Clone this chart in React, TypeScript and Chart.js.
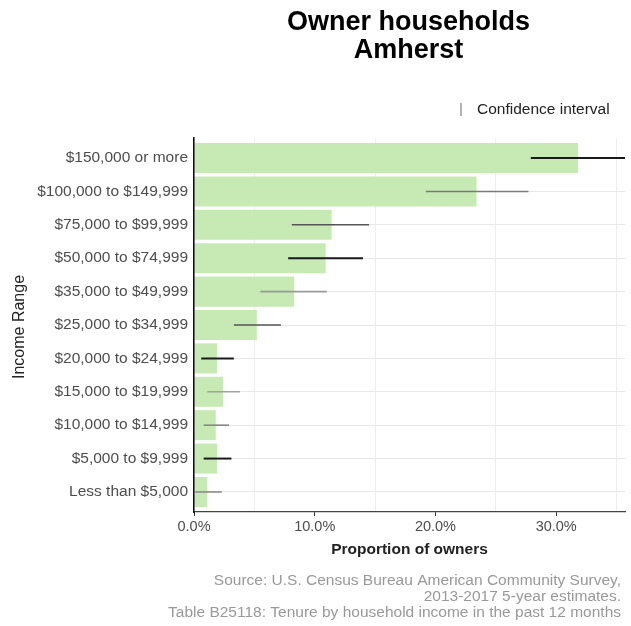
import React, { useEffect, useRef } from "react";
import { Chart, registerables } from "chart.js";

Chart.register(...registerables);

const categories = [
  "$150,000 or more",
  "$100,000 to $149,999",
  "$75,000 to $99,999",
  "$50,000 to $74,999",
  "$35,000 to $49,999",
  "$25,000 to $34,999",
  "$20,000 to $24,999",
  "$15,000 to $19,999",
  "$10,000 to $14,999",
  "$5,000 to $9,999",
  "Less than $5,000",
];
const share = [31.8, 23.4, 11.4, 10.9, 8.3, 5.2, 1.9, 2.4, 1.8, 1.9, 1.1];
const ciLower = [27.9, 19.2, 8.1, 7.8, 5.5, 3.3, 0.6, 1.1, 0.8, 0.8, 0.1];
const ciUpper = [35.7, 27.7, 14.5, 14.0, 11.0, 7.2, 3.3, 3.8, 2.9, 3.1, 2.3];
const xTickValues = [0, 5, 10, 15, 20, 25, 30, 35];

const titleLines = ["Owner households", "Amherst"];
const xTitle = "Proportion of owners";
const yTitle = "Income Range";
const legendLabel = "Confidence interval";
const captionLines = [
  "Source: U.S. Census Bureau American Community Survey,",
  "2013-2017 5-year estimates.",
  "Table B25118: Tenure by household income in the past 12 months",
];

const ciColors = ["#1a1a1a", "#7a7a7a", "#555555", "#1a1a1a", "#999999", "#555555", "#1a1a1a", "#a0a0a0", "#888888", "#1a1a1a", "#8a8a8a"];
const FONT = "'Liberation Sans', Arial, Helvetica, sans-serif";

const decorPlugin = {
  id: "decor",
  afterDatasetsDraw(chart: any) {
    const { ctx, chartArea, scales } = chart;
    const xs = scales.x;
    const ys = scales.y;
    ctx.save();
    ctx.beginPath();
    ctx.rect(chartArea.left, chartArea.top, chartArea.right - chartArea.left, chartArea.bottom - chartArea.top);
    ctx.clip();
    for (let i = 0; i < categories.length; i++) {
      const y = ys.getPixelForValue(i);
      const x1 = xs.getPixelForValue(ciLower[i]);
      const x2 = xs.getPixelForValue(ciUpper[i]);
      ctx.strokeStyle = ciColors[i];
      ctx.lineWidth = ciColors[i] === "#1a1a1a" ? 2 : 1.6;
      ctx.beginPath();
      ctx.moveTo(x1, y);
      ctx.lineTo(x2, y);
      ctx.stroke();
    }
    ctx.restore();
  },
  afterDraw(chart: any) {
    const { ctx, chartArea } = chart;
    const cx = (chartArea.left + chartArea.right) / 2;
    ctx.save();
    // title
    ctx.fillStyle = "#000";
    ctx.textAlign = "center";
    ctx.textBaseline = "alphabetic";
    ctx.font = `bold 27px ${FONT}`;
    ctx.fillText(titleLines[0], cx - 1, 30);
    ctx.fillText(titleLines[1], cx - 1, 58);
    // legend
    ctx.strokeStyle = "#999";
    ctx.lineWidth = 1.5;
    ctx.beginPath();
    ctx.moveTo(461, 103);
    ctx.lineTo(461, 116);
    ctx.stroke();
    ctx.fillStyle = "#222";
    ctx.textAlign = "left";
    ctx.textBaseline = "middle";
    ctx.font = `15.5px ${FONT}`;
    ctx.fillText(legendLabel, 477, 110);
    // x title
    ctx.textAlign = "center";
    ctx.font = `bold 15.5px ${FONT}`;
    ctx.fillStyle = "#222";
    ctx.fillText(xTitle, cx, 550);
    // y title
    ctx.save();
    ctx.translate(20, (chartArea.top + chartArea.bottom) / 2 + 2);
    ctx.rotate(-Math.PI / 2);
    ctx.font = `16px ${FONT}`;
    ctx.textAlign = "center";
    ctx.textBaseline = "middle";
    ctx.fillText(yTitle, 0, 0);
    ctx.restore();
    // caption
    ctx.textAlign = "right";
    ctx.textBaseline = "alphabetic";
    ctx.fillStyle = "#999";
    ctx.font = `15.5px ${FONT}`;
    ctx.fillText(captionLines[0], 621, 585);
    ctx.fillText(captionLines[1], 621, 601);
    ctx.fillText(captionLines[2], 621, 617);
    ctx.restore();
  },
};

export default function App() {
  const ref = useRef<HTMLCanvasElement>(null);
  useEffect(() => {
    if (!ref.current) return;
    const chart = new Chart(ref.current, {
      type: "bar",
      data: {
        datasets: [
          {
            data: share.map((v, i) => ({ x: v, y: i })),
            backgroundColor: "rgb(199,233,180)",
            borderWidth: 0,
            categoryPercentage: 0.9,
            barPercentage: 1.0,
          } as any,
        ],
      },
      options: {
        indexAxis: "y",
        animation: false,
        responsive: false,
        layout: { padding: { top: 138, right: 6, left: 0, bottom: 0 } },
        plugins: { legend: { display: false }, tooltip: { enabled: false }, title: { display: false } },
        scales: {
          x: {
            type: "linear",
            min: 0,
            max: 35.7,
            offset: false,
            afterBuildTicks: (s: any) => {
              s.ticks = xTickValues.map((v) => ({ value: v }));
            },
            afterFit: (s: any) => {
              s.height = 114;
            },
            ticks: {
              autoSkip: false,
              maxRotation: 0,
              padding: 2,
              color: "#4d4d4d",
              font: { family: FONT, size: 14.5 },
              callback: (v: any) => (Number(v) % 10 === 0 ? Number(v).toFixed(1) + "%" : ""),
            },
            grid: {
              offset: false,
              color: (c: any) => (c.tick && c.tick.value % 10 === 0 ? "rgba(0,0,0,0)" : "#efefef"),
              tickColor: (c: any) => (c.tick && c.tick.value % 10 === 0 ? "#333" : "rgba(0,0,0,0)"),
              tickLength: 4,
              lineWidth: 1,
            },
            border: { display: true, color: "#444", width: 1.2, z: 1 },
          },
          y: {
            type: "linear",
            min: -0.6,
            max: 10.6,
            reverse: true,
            offset: false,
            bounds: "data",
            afterBuildTicks: (s: any) => {
              s.ticks = categories.map((_, i) => ({ value: i }));
            },
            afterFit: (s: any) => {
              s.width = 194;
            },
            ticks: {
              autoSkip: false,
              padding: 6,
              color: "#4d4d4d",
              font: { family: FONT, size: 15.5 },
              callback: (v: any) => categories[Number(v)] ?? "",
            },
            grid: { offset: false, color: "#e8e8e8", drawTicks: false, lineWidth: 1 },
            border: { display: true, color: "#111", width: 1.6, z: 1 },
          },
        },
      },
      plugins: [decorPlugin],
    } as any);
    return () => chart.destroy();
  }, []);
  return (
    <div style={{ position: "fixed", left: 0, top: 0, width: 631, height: 626, background: "#fff" }}>
      <canvas ref={ref} width={631} height={626} style={{ width: 631, height: 626, display: "block" }} />
    </div>
  );
}
